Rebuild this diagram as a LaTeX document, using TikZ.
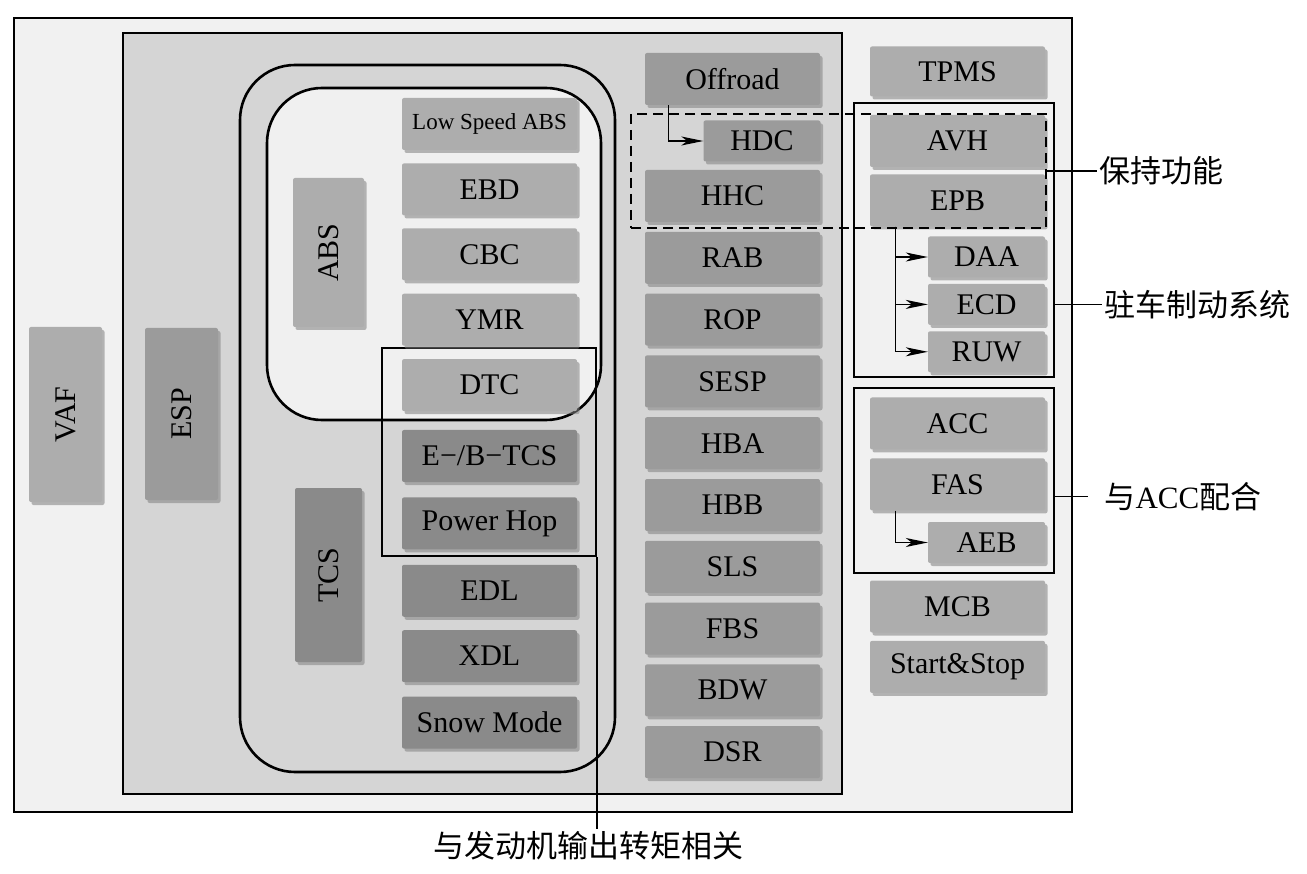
\documentclass[tikz,border=0pt]{standalone}
\usepackage{fontspec}
\setmainfont{Liberation Serif}
\newfontfamily\cjk{Noto Sans CJK SC}
\usetikzlibrary{arrows.meta,positioning,shadows}

\definecolor{vafbg}{HTML}{F1F1F1}
\definecolor{espbg}{HTML}{D5D5D5}
\definecolor{absbg}{HTML}{F0F0F0}
\definecolor{ltgray}{HTML}{ADADAD}
\definecolor{mdgray}{HTML}{9B9B9B}
\definecolor{dkgray}{HTML}{8A8A8A}

\tikzset{
  fn/.style={rectangle, rounded corners=2pt, inner sep=0pt,
    minimum width=175pt, minimum height=52pt,
    font=\fontsize{30}{36}\selectfont,
    drop shadow={shadow xshift=2.5pt, shadow yshift=-3pt, fill=black!50, opacity=.55}},
  lt/.style={fn, fill=ltgray},
  md/.style={fn, fill=mdgray},
  dk/.style={fn, fill=dkgray},
  sm/.style={minimum width=117pt, minimum height=41pt},
  grp/.style={draw, rectangle, line width=2.6pt, inner sep=0pt},
  note/.style={font=\cjk\fontsize{31}{36}\selectfont, inner sep=2pt},
  link/.style={line width=1.3pt, -{Stealth[length=22pt,width=9pt,inset=6pt]}},
}

\begin{document}
\begin{tikzpicture}[x=1pt, y=-1pt, node distance=9.4pt]
  \useasboundingbox[fill=white] (0,0) rectangle (1307,874);

  % frames
  \draw[line width=2.6pt, fill=vafbg] (14,18) rectangle (1072,812);
  \draw[line width=2.6pt, fill=espbg] (123,33) rectangle (842,794);
  \draw[line width=2.6pt, rounded corners=55pt] (240,65) rectangle (615,772);
  \draw[line width=2.6pt, fill=absbg, rounded corners=55pt] (267,88) rectangle (601,420);
  \node[grp, line width=2.2pt, minimum width=214pt, minimum height=208pt] (torque) at (489,452) {};
  \node[grp, minimum width=200pt, minimum height=274pt] (hold) at (954,240) {};
  \node[grp, minimum width=200pt, minimum height=185pt] (accgrp) at (954,480.5) {};

  % side labels
  \node[lt, rotate=90, minimum width=175pt, minimum height=73pt] (vaf) at (65.5,414.5) {VAF};
  \node[md, rotate=90, minimum width=172pt, minimum height=73pt] (esp) at (181.5,414) {ESP};
  \node[lt, rotate=90, minimum width=149pt, minimum height=71pt] (abs) at (328.5,252.5) {ABS};
  \node[dk, rotate=90, minimum width=174pt, minimum height=67pt] (tcs) at (328.5,575) {TCS};

  % ABS / TCS functions
  \node[lt, font=\fontsize{23}{28}\selectfont] (lsabs) at (489.5,124) {Low Speed ABS};
  \node[lt, below=13pt of lsabs] (ebd) {EBD};
  \node[lt, below=12.5pt of ebd] (cbc) {CBC};
  \node[lt, below=13pt of cbc] (ymr) {YMR};
  \node[lt, below=13pt of ymr] (dtc) {DTC};
  \node[dk, below=18.5pt of dtc] (ebtcs) {E−/B−TCS};
  \node[dk, below=15pt of ebtcs] (phop) {Power Hop};
  \node[dk, below=15pt of phop] (edl) {EDL};
  \node[dk, below=13pt of edl] (xdl) {XDL};
  \node[dk, below=14pt of xdl] (snow) {Snow Mode};

  % ESP extensions
  \node[md] (offroad) at (732.5,79) {Offroad};
  \node[md, sm] (hdc) at (762,141) {HDC};
  \node[md] (hhc) at (732.5,196) {HHC};
  \node[md, below=of hhc] (rab) {RAB};
  \node[md, below=of rab] (rop) {ROP};
  \node[md, below=of rop] (sesp) {SESP};
  \node[md, below=of sesp] (hba) {HBA};
  \node[md, below=of hba] (hbb) {HBB};
  \node[md, below=of hbb] (sls) {SLS};
  \node[md, below=of sls] (fbs) {FBS};
  \node[md, below=of fbs] (bdw) {BDW};
  \node[md, below=of bdw] (dsr) {DSR};

  % VAF functions
  \node[lt, minimum height=50pt] (tpms) at (957.5,71.5) {TPMS};
  \node[lt] (avh) at (957.5,141) {AVH};
  \node[lt, below=7pt of avh] (epb) {EPB};
  \node[lt, sm] (daa) at (986.5,257) {DAA};
  \node[lt, sm, below=6pt of daa] (ecd) {ECD};
  \node[lt, sm, below=6pt of ecd] (ruw) {RUW};
  \node[lt] (acc) at (957.5,423.5) {ACC};
  \node[lt, below=8.5pt of acc] (fas) {FAS};
  \node[lt, sm] (aeb) at (986.5,542.5) {AEB};
  \node[lt] (mcb) at (957.5,606.5) {MCB};
  \node[lt, below=8pt of mcb] (startstop) {Start\&Stop};

  \node[grp, line width=1.8pt, dash pattern=on 10pt off 6pt,
    minimum width=415pt, minimum height=114pt] (hdash) at (838.5,171) {};

  % connectors
  \draw[link] ([xshift=-64pt]offroad.south) |- (hdc.west);
  \draw[link] ([xshift=-62pt]epb.south) |- (daa.west);
  \draw[link] ([xshift=-62pt]epb.south) |- (ecd.west);
  \draw[link] ([xshift=-62pt]epb.south) |- (ruw.west);
  \draw[link] ([xshift=-62pt]fas.south) |- (aeb.west);

  % notes
  \node[note, right=50pt of hdash] (holdlbl) {保持功能};
  \draw[line width=1.5pt] (hdash) -- (holdlbl);
  \coordinate (parkpt) at (hold.east |- ecd);
  \node[note, right=47pt of parkpt] (parklbl) {驻车制动系统};
  \draw[line width=1.5pt] (parkpt) -- (parklbl);
  \coordinate (accpt) at ([yshift=-16pt]accgrp.east);
  \node[note, right=47pt of accpt] (acclbl) {与{\rmfamily ACC}配合};
  \draw[line width=1.5pt, shorten >=14pt] (accpt) -- (acclbl);
  \node[note] (tqlbl) at (588,846) {与发动机输出转矩相关};
  \draw[line width=1.5pt] (torque.south east) -- (torque.south east |- tqlbl.north);
\end{tikzpicture}
\end{document}
